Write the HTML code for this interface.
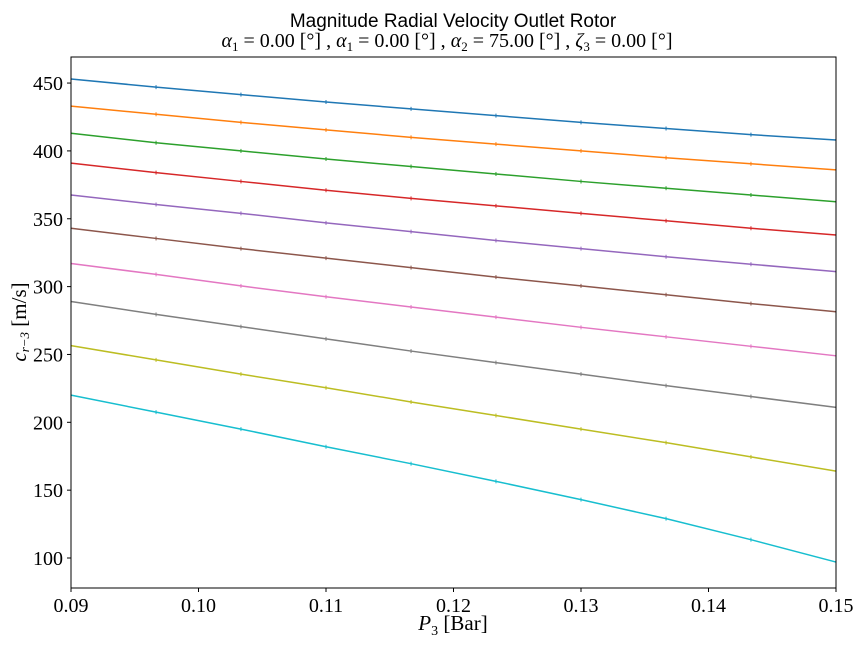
<!DOCTYPE html>
<html><head><meta charset="utf-8"><style>
body{margin:0;background:#fff}
svg{font-family:"Liberation Serif",serif}
</style></head><body>
<svg width="864" height="648">
<rect width="864" height="648" fill="#fff"/>
<g id="plot"></g>
<text x="453" y="27" text-anchor="middle" font-family="Liberation Sans, sans-serif" font-size="19">Magnitude Radial Velocity Outlet Rotor</text>
<text x="447" y="47" text-anchor="middle" font-size="20"><tspan font-style="italic">α</tspan><tspan font-size="13" dy="4">1</tspan><tspan dy="-4"> = 0.00 [°] , </tspan><tspan font-style="italic">α</tspan><tspan font-size="13" dy="4">1</tspan><tspan dy="-4"> = 0.00 [°] , </tspan><tspan font-style="italic">α</tspan><tspan font-size="13" dy="4">2</tspan><tspan dy="-4"> = 75.00 [°] , </tspan><tspan font-style="italic">ζ</tspan><tspan font-size="13" dy="4">3</tspan><tspan dy="-4"> = 0.00 [°]</tspan></text>
<text x="453" y="630" text-anchor="middle" font-size="21"><tspan font-style="italic">P</tspan><tspan font-size="14" dy="5">3</tspan><tspan dy="-5"> [Bar]</tspan></text>
<text transform="translate(26,322) rotate(-90)" text-anchor="middle" font-size="21"><tspan font-style="italic">c</tspan><tspan font-size="13" dy="3" font-style="italic">r−3</tspan><tspan dy="-3"> [m/s]</tspan></text>
</svg>
<script>
const xVals=[0.09,0.09667,0.10333,0.11,0.11667,0.12333,0.13,0.13667,0.14333,0.15];
const s1=[453,447,441.5,436,431,426,421,416.5,412,408];
const s2=[433,427,421,415.5,410,405,400,395,390.5,386];
const s3=[413,406,400,394,388.5,383,377.5,372.5,367.5,362.5];
const s4=[391,384,377.5,371,365,359.5,354,348.5,343,338];
const s5=[367.5,360.5,354,347,340.5,334,328,322,316.5,311];
const s6=[343,335.5,328,321,314,307,300.5,294,287.5,281.5];
const s7=[317,309,300.5,292.5,285,277.5,270,263,256,249];
const s8=[289,279.5,270.5,261.5,252.5,244,235.5,227,219,211];
const s9=[256.5,246,235.5,225.5,215,205,195,185,174.5,164];
const s10=[220,207.5,195,182,169.5,156.5,143,129,113.5,97];
const xTicks=[0.09,0.10,0.11,0.12,0.13,0.14,0.15];
const xTickLabels=["0.09","0.10","0.11","0.12","0.13","0.14","0.15"];
const yTicks=[100,150,200,250,300,350,400,450];
const colors=["#1f77b4","#ff7f0e","#2ca02c","#d62728","#9467bd","#8c564b","#e377c2","#7f7f7f","#bcbd22","#17becf"];
const series=[s1,s2,s3,s4,s5,s6,s7,s8,s9,s10];
const L=71,R=836,T=57,B=588,ymin=77.9,ymax=469.2;
const xs=v=>L+(v-0.09)/(0.06)*(R-L);
const ys=v=>B-(v-ymin)/(ymax-ymin)*(B-T);
const NS="http://www.w3.org/2000/svg";
const g=document.getElementById('plot');
function mk(t,a){const e=document.createElementNS(NS,t);for(const k in a)e.setAttribute(k,a[k]);g.appendChild(e);return e;}
series.forEach((s,i)=>{
 const p=mk('polyline',{points:s.map((v,j)=>xs(xVals[j])+','+ys(v)).join(' '),fill:'none',stroke:colors[i],'stroke-width':1.5});
 
 
 s.forEach((v,j)=>{const m=mk('line',{x1:xs(xVals[j]),x2:xs(xVals[j]),y1:ys(v)-2,y2:ys(v)+2,stroke:colors[i],'stroke-width':1});
 
 });
});
const fr=mk('rect',{x:L,y:T,width:R-L,height:B-T,fill:'none',stroke:'#000','stroke-width':1});


xTicks.forEach((v,i)=>{const x=xs(v);mk('line',{x1:x,x2:x,y1:B,y2:B+4,stroke:'#000'});
 const t=mk('text',{x:x,y:B+24,'text-anchor':'middle','font-size':20});t.textContent=xTickLabels[i];
 
 });
yTicks.forEach(v=>{const y=ys(v);mk('line',{x1:L-4,x2:L,y1:y,y2:y,stroke:'#000'});
 const t=mk('text',{x:L-8,y:y+7,'text-anchor':'end','font-size':20});t.textContent=v;
 
 });
</script>
</body></html>
